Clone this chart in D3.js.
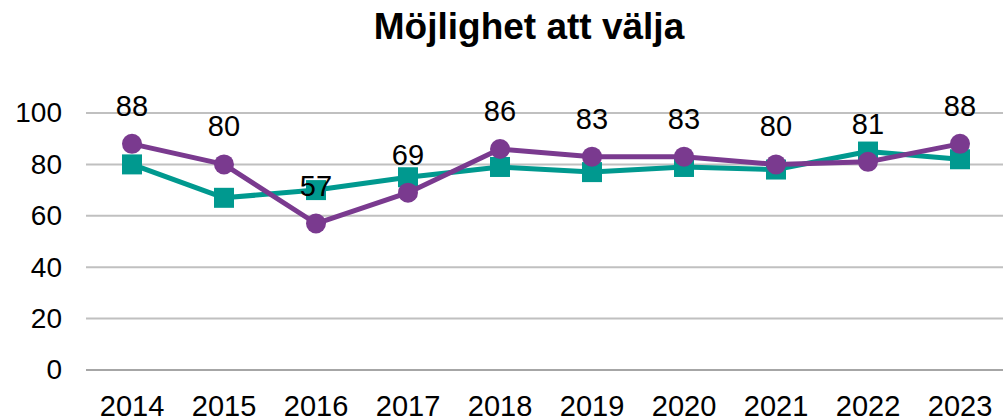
<!DOCTYPE html>
<html>
<head>
<meta charset="utf-8">
<script src="https://cdn.jsdelivr.net/npm/d3@7"></script>
<style>
  html, body { margin: 0; padding: 0; background: #fff; overflow: hidden; }
  svg { display: block; font-family: "Liberation Sans", Arial, sans-serif; }
</style>
</head>
<body>
<svg id="chart" width="1003" height="419"></svg>
<script>
const title = "Möjlighet att välja";
const years = ["2014", "2015", "2016", "2017", "2018", "2019", "2020", "2021", "2022", "2023"];
const teal = [80, 67, 70, 75, 79, 77, 79, 78, 85, 82];
const purple = [88, 80, 57, 69, 86, 83, 83, 80, 81, 88];
const yTicks = [0, 20, 40, 60, 80, 100];

const svg = d3.select("#chart");
const W = 1003, H = 419;
const margin = { left: 86, right: -3, top: 113, bottom: 49 };

const x = d3.scaleBand().domain(years).range([margin.left, W - margin.right]);
const y = d3.scaleLinear().domain([0, 100]).range([H - margin.bottom, margin.top]);
const cx = d => x(d) + x.bandwidth() / 2;

// Title
svg.append("text")
  .attr("x", 529).attr("y", 39)
  .attr("text-anchor", "middle")
  .attr("font-size", 37).attr("font-weight", "bold")
  .attr("fill", "#000")
  .text(title);

// Horizontal gridlines
svg.append("g").selectAll("line").data(yTicks).join("line")
  .attr("x1", margin.left).attr("x2", W)
  .attr("y1", d => y(d)).attr("y2", d => y(d))
  .attr("stroke", d => d === 0 ? "#a6a6a6" : "#c0c0c0")
  .attr("stroke-width", 2);

// Y axis labels
const yAxis = d3.axisLeft(y).tickValues(yTicks).tickSize(0).tickPadding(0);
svg.append("g").attr("transform", "translate(62,0)").call(yAxis)
  .call(g => g.select(".domain").remove())
  .selectAll("text")
  .attr("font-size", 28).attr("fill", "#000")
  .attr("font-family", "Liberation Sans, Arial, sans-serif");

// X axis labels
const xAxis = d3.axisBottom(x).tickSize(0).tickPadding(0);
svg.append("g").attr("transform", `translate(0,${H - margin.bottom})`).call(xAxis)
  .call(g => g.select(".domain").remove())
  .selectAll("text")
  .attr("dy", null)
  .attr("y", 46)
  .attr("font-size", 29).attr("fill", "#000")
  .attr("font-family", "Liberation Sans, Arial, sans-serif");

const line = d3.line().x((d, i) => cx(years[i])).y(d => y(d));

// Teal series with square markers
svg.append("path").datum(teal)
  .attr("d", line).attr("fill", "none")
  .attr("stroke", "#00998F").attr("stroke-width", 5)
  .attr("stroke-linejoin", "round");
svg.append("g").selectAll("rect").data(teal).join("rect")
  .attr("x", (d, i) => cx(years[i]) - 10)
  .attr("y", d => y(d) - 10)
  .attr("width", 20).attr("height", 20)
  .attr("fill", "#00998F");

// Purple series with circle markers
svg.append("path").datum(purple)
  .attr("d", line).attr("fill", "none")
  .attr("stroke", "#7A3A8F").attr("stroke-width", 5)
  .attr("stroke-linejoin", "round");
svg.append("g").selectAll("circle").data(purple).join("circle")
  .attr("cx", (d, i) => cx(years[i]))
  .attr("cy", d => y(d))
  .attr("r", 10)
  .attr("fill", "#7A3A8F");

// Value labels above the purple markers
svg.append("g").selectAll("text").data(purple).join("text")
  .attr("x", (d, i) => cx(years[i]))
  .attr("y", d => y(d) - 28)
  .attr("text-anchor", "middle")
  .attr("font-size", 29).attr("fill", "#000")
  .text(d => d);
</script>
</body>
</html>
